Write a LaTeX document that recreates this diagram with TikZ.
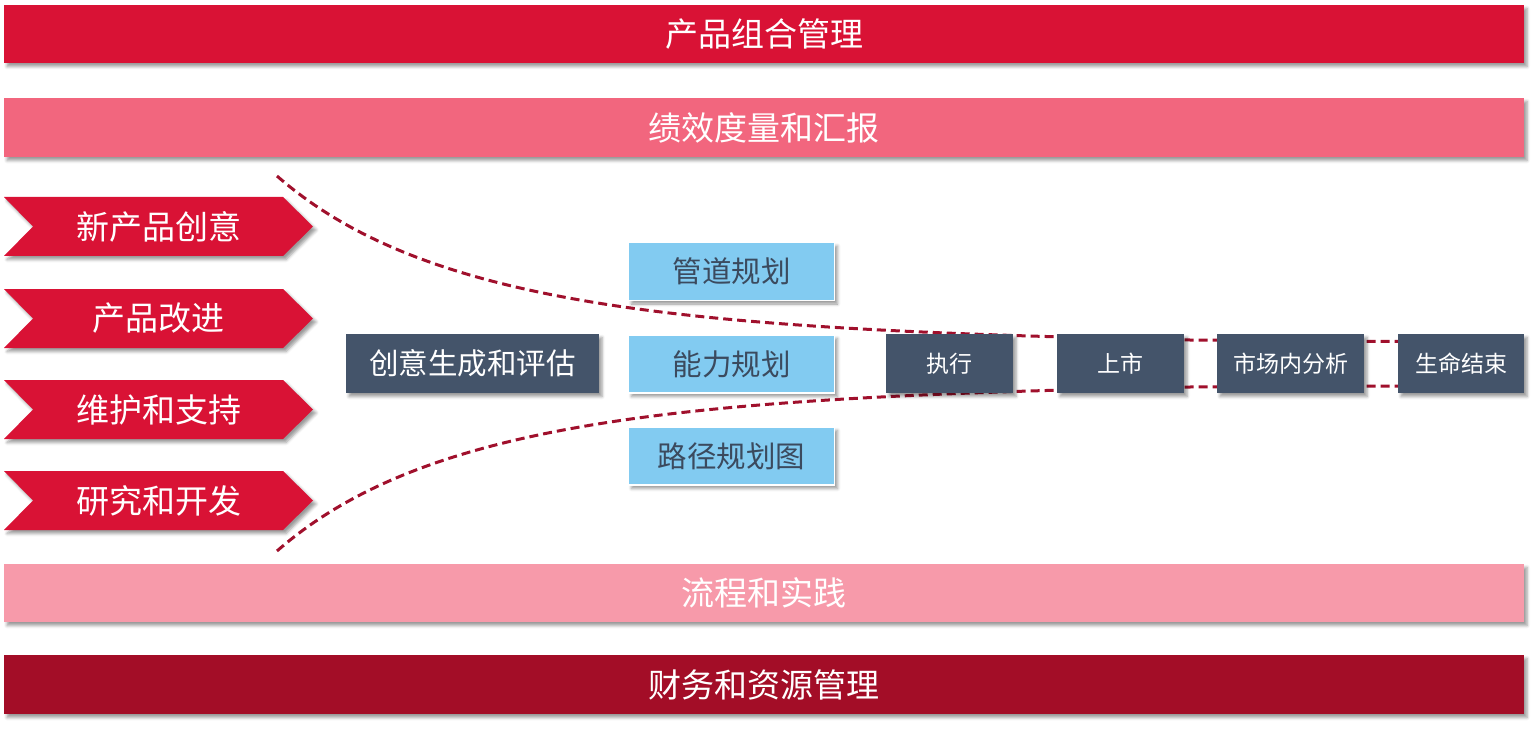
\documentclass[tikz,border=0pt]{standalone}
\usepackage{fontspec}
\setmainfont{Noto Sans CJK SC}
\usetikzlibrary{shadows.blur}
\definecolor{barA}{HTML}{D91235}
\definecolor{barB}{HTML}{F2667E}
\definecolor{barC}{HTML}{F79AAA}
\definecolor{barD}{HTML}{A30D27}
\definecolor{slate}{HTML}{44546A}
\definecolor{sky}{HTML}{82CBF1}
\definecolor{skytext}{HTML}{3B4A5E}
\definecolor{funnel}{HTML}{A0102C}
\begin{document}
\begin{tikzpicture}[x=1pt,y=-1pt,
  shad/.style={blur shadow={shadow xshift=3pt,shadow yshift=-3.5pt,shadow blur radius=3pt,shadow opacity=40}},
  bar/.style={shad,inner sep=0pt,minimum width=1520pt,text=white,font=\fontsize{33}{33}\selectfont},
  chev/.style={shad,fill=barA,draw=none},
  chevtext/.style={inner sep=0pt,text=white,font=\fontsize{33}{33}\selectfont},
  darkbox/.style={shad,fill=slate,inner sep=0pt,minimum height=59pt,text=white},
  skybox/.style={shad,fill=sky,draw=white,line width=1.5pt,inner sep=0pt,minimum width=206pt,minimum height=58pt,text=skytext,font=\fontsize{29.5}{29.5}\selectfont},
  funnelline/.style={draw=funnel,line width=3pt,dash pattern=on 9pt off 5pt}
]
\useasboundingbox (0,0) rectangle (1537,738);

% horizontal bars
\node[bar,fill=barA,minimum height=58pt] (pm) at (764,34) {产品组合管理};
\node[bar,fill=barB,minimum height=59pt] (kpi) at (764,127.5) {绩效度量和汇报};
\node[bar,fill=barC,minimum height=58pt] (proc) at (764,593) {流程和实践};
\node[bar,fill=barD,minimum height=59pt] (fin) at (764,684.5) {财务和资源管理};

% funnel dashed lines
\coordinate (ftA) at (277,176);
\coordinate (ftB) at (1190,340);
\coordinate (ftC) at (1400,341.5);
\coordinate (fbA) at (277,551);
\coordinate (fbB) at (1190,387);
\coordinate (fbC) at (1400,386);
\draw[funnelline] (ftA) .. controls (430,310) and (700,330) .. (ftB) -- (ftC);
\draw[funnelline] (fbA) .. controls (430,417) and (700,397) .. (fbB) -- (fbC);

% chevrons
\foreach \yt/\nm/\txt in {197/c1/新产品创意,289/c2/产品改进,380/c3/维护和支持,471/c4/研究和开发}{
  \path[chev] (4,\yt) -- (283,\yt) -- (313,\yt+29.5) -- (283,\yt+59) -- (4,\yt+59) -- (33,\yt+29.5) -- cycle;
  \node[chevtext] (\nm) at (158.5,\yt+29.5) {\txt};
}

% idea box
\node[darkbox,minimum width=253pt,font=\fontsize{29.5}{29.5}\selectfont] (idea) at (472.5,363.5) {创意生成和评估};

% planning boxes
\node[skybox] (pipe) at (731.5,271.5) {管道规划};
\node[skybox] (cap) at (731.5,364) {能力规划};
\node[skybox] (road) at (731.5,456) {路径规划图};

% lifecycle boxes
\node[darkbox,minimum width=127pt,font=\fontsize{23}{23}\selectfont] (exec) at (949.5,363.5) {执行};
\node[darkbox,minimum width=127pt,font=\fontsize{23}{23}\selectfont] (launch) at (1120.5,363.5) {上市};
\node[darkbox,minimum width=147pt,font=\fontsize{23}{23}\selectfont] (inmkt) at (1290.5,363.5) {市场内分析};
\node[darkbox,minimum width=126pt,font=\fontsize{23}{23}\selectfont] (eol) at (1461,363.5) {生命结束};
\end{tikzpicture}
\end{document}
